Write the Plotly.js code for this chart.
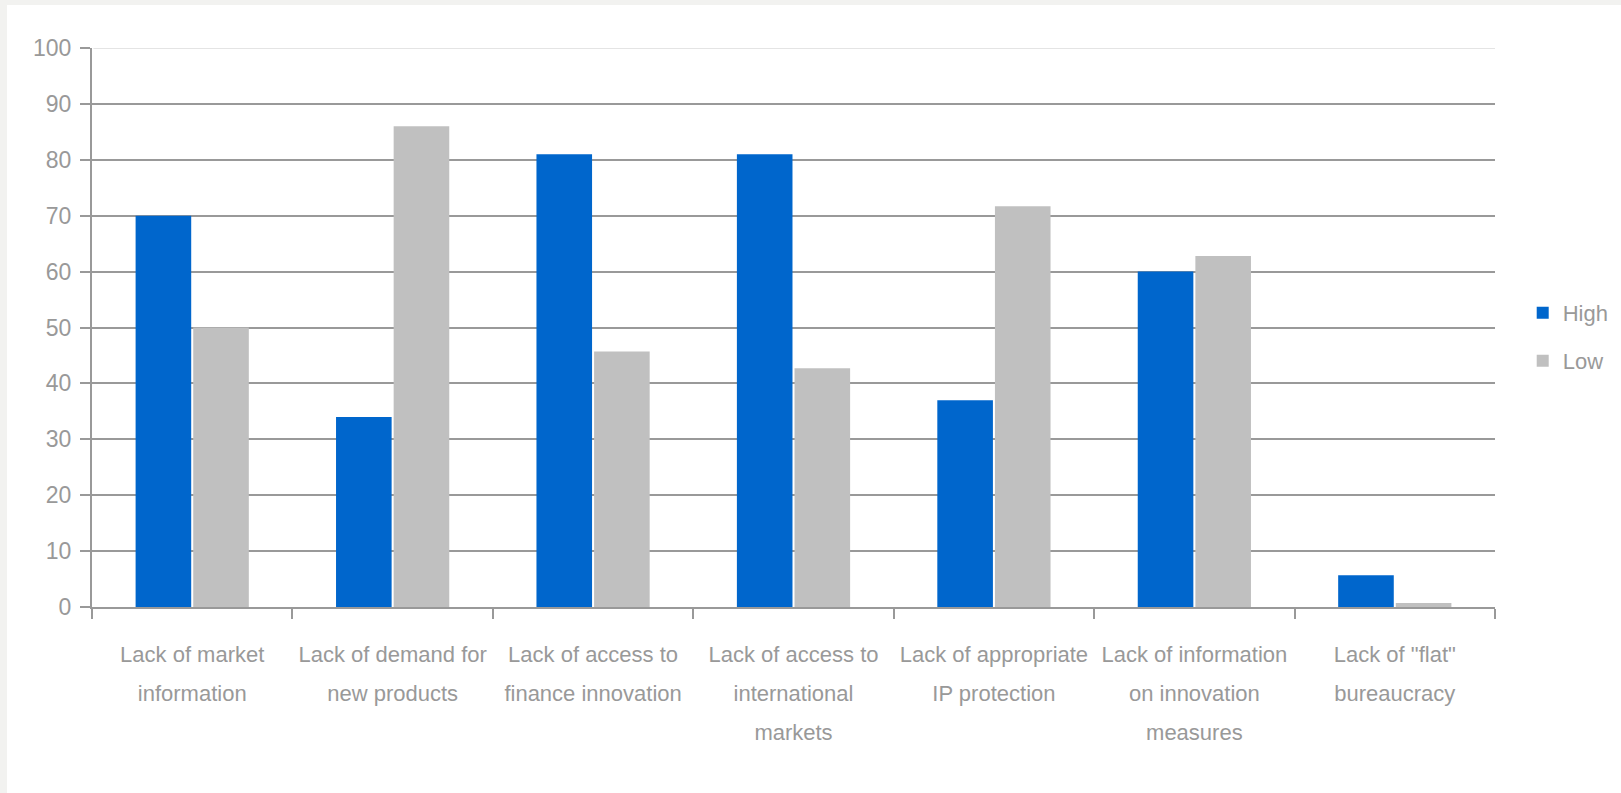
<!DOCTYPE html>
<html>
<head>
<meta charset="utf-8">
<script src="https://cdn.plot.ly/plotly-3.0.1.min.js"></script>
<style>
  html, body { margin: 0; padding: 0; background: #f2f2f0; }
  #chart { position: absolute; left: 7px; top: 5px; width: 1614px; height: 788px; background: #ffffff; }
</style>
</head>
<body>
<div id="chart"></div>
<script>
// Barriers to innovation: share of firms rating each barrier High / Low
const categoryLines = [
  ["Lack of market", "information"],
  ["Lack of demand for", "new products"],
  ["Lack of access to", "finance innovation"],
  ["Lack of access to", "international", "markets"],
  ["Lack of appropriate", "IP protection"],
  ["Lack of information", "on innovation", "measures"],
  ["Lack of \"flat\"", "bureaucracy"]
];
const categories = categoryLines.map(lines => lines.join(" "));
const highValues = [70, 34, 81, 81, 37, 60, 5.7];
const lowValues  = [50, 86, 45.7, 42.7, 71.7, 62.8, 0.7];
const yTickValues = [0, 10, 20, 30, 40, 50, 60, 70, 80, 90, 100];

const labelSize = 22;
const gridGrey = "#999999";
const textGrey = "#999999";

// wrap each line in a span so the line pitch follows the larger tick font
const tickText = categoryLines.map(lines =>
  lines.map(l => '<span style="font-size:' + labelSize + 'px">' + l + '</span>').join("<br>")
);

const traces = [
  {
    type: "bar",
    name: "High",
    x: categories,
    y: highValues,
    marker: { color: "#0066cc", line: { width: 0 } },
    legend: "legend",
    hoverinfo: "x+y+name"
  },
  {
    type: "bar",
    name: "Low",
    x: categories,
    y: lowValues,
    marker: { color: "#c0c0c0", line: { width: 0 } },
    legend: "legend2",
    hoverinfo: "x+y+name"
  }
];

// legends are placed against the container so they leave the plot margins alone
const legendCommon = {
  xref: "container", yref: "container",
  x: 0.9391, xanchor: "left",
  yanchor: "middle",
  font: { family: "Liberation Sans, Arial, sans-serif", size: 22, color: textGrey },
  bgcolor: "rgba(0,0,0,0)",
  borderwidth: 0
};

const layout = {
  width: 1614,
  height: 788,
  margin: { l: 85, r: 126, t: 43, b: 186 },
  paper_bgcolor: "#ffffff",
  plot_bgcolor: "#ffffff",
  font: { family: "Liberation Sans, Arial, sans-serif", color: textGrey },
  barmode: "group",
  bargap: 0.425,
  bargroupgap: 0.035,
  showlegend: true,
  legend: Object.assign({}, legendCommon, { y: 0.6092 }),
  legend2: Object.assign({}, legendCommon, { y: 0.5483 }),
  xaxis: {
    type: "category",
    categoryorder: "array",
    categoryarray: categories,
    tickvals: categories,
    ticktext: tickText,
    tickson: "boundaries",
    ticks: "outside",
    ticklen: 10,
    tickwidth: 2,
    tickcolor: gridGrey,
    showline: true,
    linecolor: gridGrey,
    linewidth: 2,
    showgrid: false,
    zeroline: false,
    tickangle: 0,
    tickfont: { size: 30, color: textGrey },
    ticklabelstandoff: 17,
    automargin: false,
    fixedrange: true
  },
  yaxis: {
    range: [0, 100],
    tickvals: yTickValues,
    ticktext: yTickValues.map(String),
    ticks: "outside",
    ticklen: 10,
    tickwidth: 2,
    tickcolor: gridGrey,
    showline: true,
    linecolor: gridGrey,
    linewidth: 2,
    showgrid: true,
    gridcolor: gridGrey,
    gridwidth: 2,
    zeroline: false,
    tickfont: { size: 23, color: textGrey },
    ticklabelstandoff: 4,
    automargin: false,
    fixedrange: true
  },
  shapes: [
    {
      // lighter rule along the top of the value scale
      type: "line", xref: "paper", yref: "y",
      x0: 0.001, x1: 1, y0: 100, y1: 100,
      line: { color: "#e4e4e4", width: 2 },
      layer: "above"
    }
  ]
};

Plotly.newPlot("chart", traces, layout, { displayModeBar: false, staticPlot: true });
</script>
</body>
</html>
